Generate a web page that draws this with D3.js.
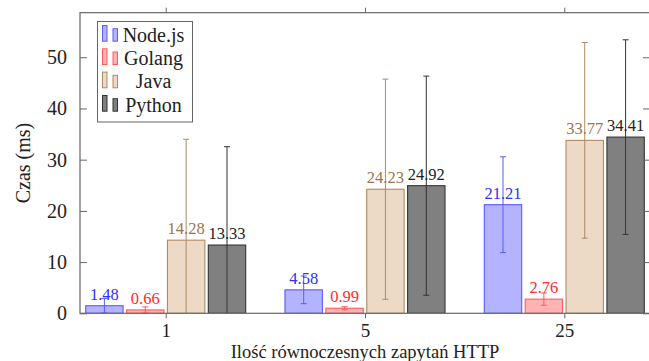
<!DOCTYPE html>
<html>
<head>
<meta charset="utf-8">
<script src="https://cdn.jsdelivr.net/npm/d3@7"></script>
<style>
  html, body { margin: 0; padding: 0; background: #fff; }
  svg { display: block; }
  svg text { font-family: "Liberation Serif", "Times New Roman", serif !important; }
</style>
</head>
<body>
<svg id="chart" width="649" height="361"></svg>
<script>
// ---- data ----
const categories = ["1", "5", "25"];
const seriesNames = ["Node.js", "Golang", "Java", "Python"];
const nodejsValues = [1.48, 4.58, 21.21];
const nodejsErrors = [1.42, 2.7, 9.35];
const golangValues = [0.66, 0.99, 2.76];
const golangErrors = [0.6, 0.3, 1.2];
const javaValues = [14.28, 24.23, 33.77];
const javaErrors = [19.7, 21.5, 19.1];
const pythonValues = [13.33, 24.92, 34.41];
const pythonErrors = [19.2, 21.4, 19.0];
const yTicks = [0, 10, 20, 30, 40, 50];
const xLabel = "Ilość równoczesnych zapytań HTTP";
const yLabel = "Czas (ms)";

(function () {
const FONT = "'Liberation Serif', 'Times New Roman', serif";
const styles = {
  "Node.js": { fill: "#b3b3ff", stroke: "#5a5aff", label: "#3030ff" },
  "Golang":  { fill: "#ffb3b3", stroke: "#ff5a5a", label: "#ff2a2a" },
  "Java":    { fill: "#ecd9c6", stroke: "#b08a64", label: "#9c7450" },
  "Python":  { fill: "#808080", stroke: "#333333", label: "#222222" }
};

const series = [
  { name: "Node.js", values: nodejsValues, errors: nodejsErrors },
  { name: "Golang", values: golangValues, errors: golangErrors },
  { name: "Java", values: javaValues, errors: javaErrors },
  { name: "Python", values: pythonValues, errors: pythonErrors }
];

// ---- layout ----
const pL = 80, pR = 650, pT = 12.7, pB = 313.3;
const svg = d3.select("#chart");

const x = d3.scalePoint().domain(categories).range([165.7, 564.3]);
const xInner = d3.scaleBand().domain(seriesNames).range([-80, 80]).paddingInner(0.085);
const y = d3.scaleLinear().domain([0, 58.7]).range([pB, pT]);

svg.append("defs").append("clipPath").attr("id", "plotclip")
  .append("rect").attr("x", pL).attr("y", pT).attr("width", pR - pL).attr("height", pB - pT);

const plot = svg.append("g").attr("clip-path", "url(#plotclip)");

// bars
series.forEach(s => {
  const st = styles[s.name];
  plot.selectAll(null).data(categories).enter().append("rect")
    .attr("x", (c) => x(c) + xInner(s.name))
    .attr("y", (c, i) => y(s.values[i]))
    .attr("width", xInner.bandwidth())
    .attr("height", (c, i) => y(0) - y(s.values[i]))
    .attr("fill", st.fill)
    .attr("stroke", st.stroke)
    .attr("stroke-width", 1.1);
});

// value labels
series.forEach(s => {
  const st = styles[s.name];
  svg.selectAll(null).data(categories).enter().append("text")
    .attr("x", (c) => x(c) + xInner(s.name) + xInner.bandwidth() / 2)
    .attr("y", (c, i) => y(s.values[i]) - 6)
    .attr("text-anchor", "middle")
    .style("font-family", FONT)
    .style("font-size", "16.5px")
    .attr("fill", st.label)
    .text((c, i) => s.values[i].toFixed(2));
});

// error bars
series.forEach(s => {
  const st = styles[s.name];
  const g = plot.append("g").attr("stroke", st.stroke).attr("stroke-width", 1);
  categories.forEach((c, i) => {
    const cx = x(c) + xInner(s.name) + xInner.bandwidth() / 2;
    const y1 = y(s.values[i] + s.errors[i]);
    const y0 = y(s.values[i] - s.errors[i]);
    g.append("line").attr("x1", cx).attr("x2", cx).attr("y1", y1).attr("y2", y0);
    g.append("line").attr("x1", cx - 3).attr("x2", cx + 3).attr("y1", y1).attr("y2", y1);
    g.append("line").attr("x1", cx - 3).attr("x2", cx + 3).attr("y1", y0).attr("y2", y0);
  });
});

// axes frame
const axisColor = "#666";
svg.append("rect").attr("x", pL).attr("y", pT).attr("width", pR - pL).attr("height", pB - pT)
  .attr("fill", "none").attr("stroke", axisColor).attr("stroke-width", 1.2);

// y axis (left) with inward ticks
const yAxisL = d3.axisLeft(y).tickValues(yTicks).tickSizeInner(-7).tickSizeOuter(0).tickPadding(13);
const gyl = svg.append("g").attr("transform", `translate(${pL},0)`).call(yAxisL);
gyl.attr("font-family", null).attr("font-size", null);
gyl.select(".domain").remove();
gyl.selectAll(".tick line").attr("stroke", axisColor).attr("stroke-width", 1);
gyl.selectAll(".tick text").style("font-family", FONT).style("font-size", "20px").attr("fill", "#222");

// y axis (right) inward ticks
const yAxisR = d3.axisRight(y).tickValues(yTicks).tickSizeInner(-7).tickSizeOuter(0).tickFormat("");
const gyr = svg.append("g").attr("transform", `translate(${pR},0)`).call(yAxisR);
gyr.select(".domain").remove();
gyr.selectAll(".tick line").attr("stroke", axisColor).attr("stroke-width", 1);

// x axis bottom (outward ticks)
const xAxisB = d3.axisBottom(x).tickSizeInner(5).tickSizeOuter(0).tickPadding(5.7);
const gxb = svg.append("g").attr("transform", `translate(0,${pB})`).call(xAxisB);
gxb.attr("font-family", null).attr("font-size", null);
gxb.select(".domain").remove();
gxb.selectAll(".tick line").attr("stroke", axisColor).attr("stroke-width", 1);
gxb.selectAll(".tick text").style("font-family", FONT).style("font-size", "19px").attr("fill", "#222");

// x axis top (outward ticks)
const xAxisT = d3.axisTop(x).tickSizeInner(5).tickSizeOuter(0).tickFormat("");
const gxt = svg.append("g").attr("transform", `translate(0,${pT})`).call(xAxisT);
gxt.select(".domain").remove();
gxt.selectAll(".tick line").attr("stroke", axisColor).attr("stroke-width", 1);

// axis labels
svg.append("text").attr("x", x("5")).attr("y", 358).attr("text-anchor", "middle")
  .style("font-family", FONT).style("font-size", "18.5px").attr("fill", "#222").text(xLabel);
svg.append("text").attr("transform", `translate(29.5,${(pT + pB) / 2}) rotate(-90)`)
  .attr("text-anchor", "middle").style("font-family", FONT).style("font-size", "20px")
  .attr("fill", "#222").text(yLabel);

// legend
const lg = svg.append("g");
lg.append("rect").attr("x", 97.5).attr("y", 21.5).attr("width", 95).attr("height", 100.5)
  .attr("fill", "#fff").attr("stroke", axisColor).attr("stroke-width", 1);
const legendBaselines = [41.7, 65, 88.3, 111.7];
seriesNames.forEach((name, i) => {
  const st = styles[name];
  const b = legendBaselines[i];
  lg.append("rect").attr("x", 102.5).attr("y", b - 16.2).attr("width", 4.5).attr("height", 15.7)
    .attr("fill", st.fill).attr("stroke", st.stroke).attr("stroke-width", 1);
  lg.append("rect").attr("x", 113).attr("y", b - 13).attr("width", 4.5).attr("height", 12.5)
    .attr("fill", st.fill).attr("stroke", st.stroke).attr("stroke-width", 1);
  lg.append("text").attr("x", 153.5).attr("y", b).attr("text-anchor", "middle")
    .style("font-family", FONT).style("font-size", "20px").attr("fill", "#222").text(name);
});
})();
</script>
</body>
</html>
